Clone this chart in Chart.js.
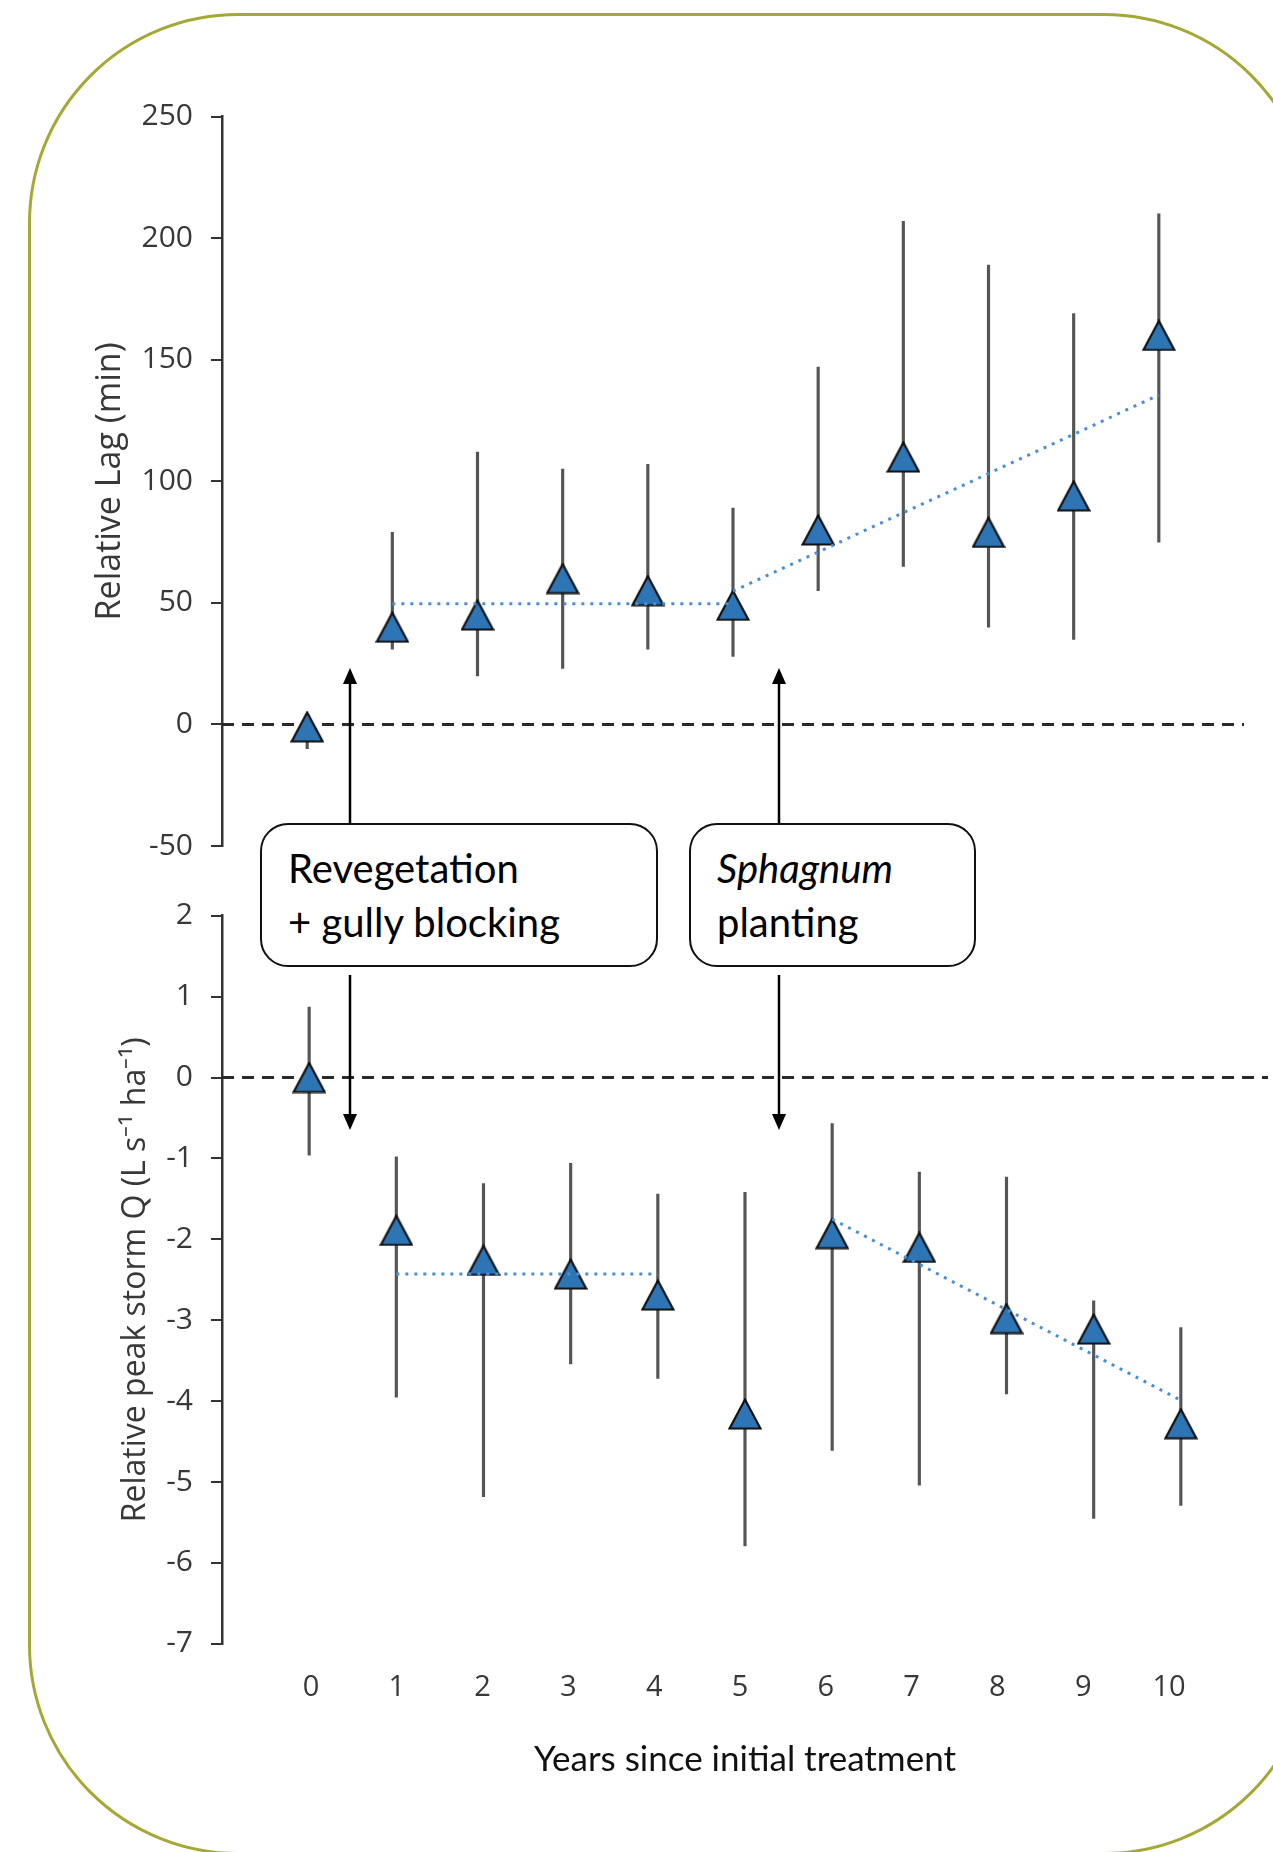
<!DOCTYPE html>
<html>
<head>
<meta charset="utf-8">
<script src="https://cdn.jsdelivr.net/npm/chart.js@4.4.1/dist/chart.umd.min.js"></script>
<style>
  html, body { margin: 0; padding: 0; width: 1273px; height: 1852px; overflow: hidden; background: #fff; }
  #frame { position: absolute; left: 28px; top: 13px; width: 1286px; height: 1842px;
           border: 3px solid #a6a835; border-radius: 210px; box-sizing: border-box; }
  .wrap { position: absolute; left: 0; width: 1273px; }
  #topWrap { top: 0; height: 880px; }
  #botWrap { top: 880px; height: 972px; }
  .note { position: absolute; top: 823px; height: 144px; border: 2.5px solid #111; border-radius: 28px;
          background: #fff; box-sizing: border-box; font-family: Lato, sans-serif; font-size: 40px;
          line-height: 54px; color: #000; padding: 16px 0 0 26px; }
  #note1 { left: 260px; width: 398px; }
  #note2 { left: 689px; width: 287px; }
  #arrows { position: absolute; left: 0; top: 0; }
</style>
</head>
<body>
<div id="frame"></div>
<div class="wrap" id="topWrap"><canvas id="lagChart"></canvas></div>
<div class="wrap" id="botWrap"><canvas id="peakChart"></canvas></div>

<svg id="arrows" width="1273" height="1852">
  <g stroke="#000" stroke-width="2.5">
    <line x1="350" y1="823" x2="350" y2="682" />
    <line x1="779" y1="823" x2="779" y2="682" />
    <line x1="350" y1="975" x2="350" y2="1116" />
    <line x1="779" y1="975" x2="779" y2="1116" />
  </g>
  <g fill="#000">
    <polygon points="350,668 343,684 357,684" />
    <polygon points="779,668 772,684 786,684" />
    <polygon points="350,1130 343,1114 357,1114" />
    <polygon points="779,1130 772,1114 786,1114" />
  </g>
</svg>

<div class="note" id="note1">Revegetation<br>+ gully blocking</div>
<div class="note" id="note2"><i>Sphagnum</i><br>planting</div>

<script>
// years since treatment
const years = [0, 1, 2, 3, 4, 5, 6, 7, 8, 9, 10];

// relative lag (min), mean and error bar ends
const lagMean = [-1, 40, 45, 60, 55, 49, 80, 110, 79, 94, 160];
const lagLow  = [-10, 31, 20, 23, 31, 28, 55, 65, 40, 35, 75];
const lagHigh = [3, 79, 112, 105, 107, 89, 147, 207, 189, 169, 210];

// relative peak storm Q, mean and error bar ends
const qMean = [0, -1.89, -2.26, -2.43, -2.69, -4.16, -1.93, -2.10, -2.98, -3.11, -4.28];
const qLow  = [-0.96, -3.95, -5.18, -3.54, -3.72, -5.79, -4.61, -5.04, -3.91, -5.45, -5.29];
const qHigh = [0.87, -0.98, -1.31, -1.06, -1.44, -1.42, -0.57, -1.17, -1.23, -2.76, -3.09];

// dotted trend segments
const lagTrend1X = [1, 5],  lagTrend1Y = [49.6, 49.6];
const lagTrend2X = [5, 10], lagTrend2Y = [54.8, 135.5];
const qTrend1X = [1, 4],    qTrend1Y = [-2.43, -2.43];
const qTrend2X = [6, 10],   qTrend2Y = [-1.75, -3.99];

// zero reference line
const zeroX = [-1, 11];

// tick labels
const lagTicks = [-50, 0, 50, 100, 150, 200, 250];
const qTicks = [-7, -6, -5, -4, -3, -2, -1, 0, 1, 2];
const xTickLabels = [0, 1, 2, 3, 4, 5, 6, 7, 8, 9, 10];

const BLUE = '#2e75b6';
const TREND = '#4a8fd6';

// excel style triangle, centred in its box
function triangleMarker() {
  const c = document.createElement('canvas');
  c.width = 34; c.height = 32;
  const g = c.getContext('2d');
  g.beginPath();
  g.moveTo(17, 1.5);
  g.lineTo(32.5, 30.5);
  g.lineTo(1.5, 30.5);
  g.closePath();
  g.fillStyle = BLUE;
  g.fill();
  g.lineWidth = 2.2;
  g.strokeStyle = '#111';
  g.stroke();
  return c;
}
const tri = triangleMarker();

const pts = (xs, ys) => xs.map((x, i) => ({ x: x, y: ys[i] }));

function datasets(mean, low, high, t1x, t1y, t2x, t2y) {
  return [
    { type: 'line', data: pts(t1x, t1y), borderColor: TREND, borderWidth: 3, borderDash: [3, 6],
      pointRadius: 0, fill: false, order: 0 },
    { type: 'line', data: pts(t2x, t2y), borderColor: TREND, borderWidth: 3, borderDash: [3, 6],
      pointRadius: 0, fill: false, order: 0 },
    { type: 'scatter', data: pts(years, mean), pointStyle: tri, pointRadius: 17, order: 1 },
    { type: 'bar', data: years.map((x, i) => ({ x: x, y: [low[i], high[i]] })),
      backgroundColor: '#555', barThickness: 2.5, grouped: false, order: 2 },
    { type: 'line', data: zeroX.map(x => ({ x: x, y: 0 })), borderColor: '#2a2a2a', borderWidth: 3,
      borderDash: [12, 8], pointRadius: 0, fill: false, order: 3 }
  ];
}

function yAxis(min, max, step, title, titleSize, titlePad, ticksList) {
  return {
    type: 'linear', min: min, max: max,
    afterBuildTicks: s => { s.ticks = ticksList.map(v => ({ value: v })); },
    ticks: { stepSize: step, padding: 18, color: '#383838', font: { family: 'Open Sans', size: 30 } },
    grid: { drawOnChartArea: false, drawTicks: true, tickLength: 11, color: '#333', lineWidth: 2 },
    border: { display: true, color: '#333', width: 2.5 },
    title: { display: true, text: title, color: '#383838', font: { family: 'Open Sans', size: titleSize },
             padding: { top: titlePad, bottom: 0 } },
    afterFit: s => { s.width = 222; s.paddingTop = 0; s.paddingBottom = 0; }
  };
}

const common = {
  responsive: true,
  maintainAspectRatio: false,
  animation: false,
  plugins: { legend: { display: false }, tooltip: { enabled: false } }
};

new Chart(document.getElementById('lagChart'), {
  type: 'scatter',
  data: { datasets: datasets(lagMean, lagLow, lagHigh, lagTrend1X, lagTrend1Y, lagTrend2X, lagTrend2Y) },
  options: {
    ...common,
    layout: { autoPadding: false, padding: { left: 0, top: 116.7, right: 29, bottom: 34 } },
    scales: {
      x: { type: 'linear', min: -1, max: 11, display: false, offset: false },
      y: yAxis(-50, 250, 50, 'Relative Lag (min)', 34, 90, lagTicks)
    }
  }
});

new Chart(document.getElementById('peakChart'), {
  type: 'scatter',
  data: { datasets: datasets(qMean, qLow, qHigh, qTrend1X, qTrend1Y, qTrend2X, qTrend2Y) },
  options: {
    ...common,
    layout: { autoPadding: false, padding: { left: 0, top: 35.7, right: 5, bottom: 8.2 } },
    scales: {
      x: { type: 'linear', min: -1, max: 11, display: false, offset: false },
      // label axis, slightly offset from the data as in the original figure
      xl: {
        type: 'linear', axis: 'x', position: 'bottom', min: -1.0373, max: 11.154, offset: false,
        afterBuildTicks: s => { s.ticks = xTickLabels.map(v => ({ value: v })); },
        ticks: { autoSkip: false, maxRotation: 0, padding: 27, color: '#383838',
                 font: { family: 'Open Sans', size: 29 } },
        grid: { display: false, drawTicks: false },
        border: { display: false },
        title: { display: true, text: 'Years since initial treatment', color: '#111',
                 font: { family: 'Lato', size: 35 }, padding: { top: 0, bottom: 62.8 } },
        afterFit: s => { s.height = 200; s.paddingLeft = 0; s.paddingRight = 0; }
      },
      y: yAxis(-7, 2, 1, 'Relative peak storm Q (L s\u207B\u00B9 ha\u207B\u00B9)', 32, 117, qTicks)
    }
  }
});
</script>
</body>
</html>
